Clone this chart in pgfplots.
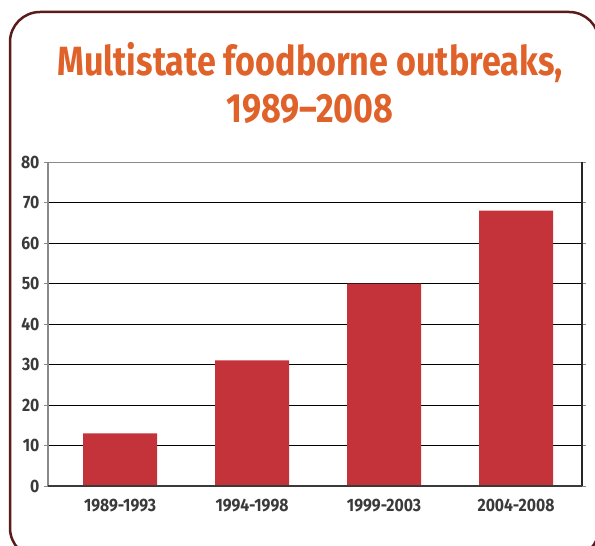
\documentclass[border=0pt]{standalone}
\usepackage{fontspec}
\setmainfont{Fira Sans}
\newfontfamily\titlefont{Fira Sans}[FakeStretch=0.835]
\newfontfamily\tickfont{Fira Sans}[FakeStretch=0.88]
\usepackage{pgfplots}
\pgfplotsset{compat=1.18}

\definecolor{framec}{HTML}{5C1A1A}
\definecolor{titlec}{HTML}{E0622B}
\definecolor{barc}{HTML}{C4333A}
\definecolor{labelc}{HTML}{3A3A3A}
\definecolor{axisgray}{HTML}{8A8A8A}

\pgfplotstableread{
x  n
0  13
1  31
2  50
3  68
}\outbreaks

\begin{document}
\begin{tikzpicture}
\useasboundingbox (0,0) rectangle (595bp,546bp);
\clip (0,0) rectangle (595bp,546bp);

% rounded frame, running off the right and bottom edges
\draw[framec, line width=2.5bp, rounded corners=30bp] (10bp,-12bp) rectangle (599bp,534bp);

% title
\node[anchor=base, text=titlec, font=\titlefont\bfseries\fontsize{41}{41}\selectfont, inner sep=0pt]
  at (310bp,470bp) {Multistate foodborne outbreaks,};
\node[anchor=base, text=titlec, font=\titlefont\bfseries\fontsize{41}{41}\selectfont, inner sep=0pt]
  at (310bp,423bp) {1989–2008};

\begin{axis}[
  at={(48bp,60bp)}, anchor=south west,
  scale only axis,
  width=534bp, height=324bp,
  xmin=-0.546, xmax=3.5,
  ymin=0, ymax=80,
  ytick={0,10,...,80},
  xtick={0,1,2,3},
  xticklabels={1989-1993,1994-1998,1999-2003,2004-2008},
  xtick style={draw=none},
  extra x ticks={-0.5,0.5,1.5,2.5,3.5},
  extra x tick labels={},
  extra x tick style={tick style={draw=labelc, line width=0.8bp}, major tick length=6bp, tick align=outside},
  ytick style={draw=axisgray, line width=0.8bp},
  tick align=outside,
  major tick length=4bp,
  ymajorgrids,
  grid style={black, line width=0.7bp},
  axis line style={draw=none},
  tick label style={font=\tickfont\bfseries\fontsize{18}{18}\selectfont, text=labelc},
  /pgf/number format/assume math mode=true,
  xticklabel style={yshift=-6bp},
  yticklabel style={xshift=-1bp},
  ybar, bar width=74bp,
  clip=false,
]
\addplot[fill=barc, draw=none] table[x=x, y=n] {\outbreaks};
\draw[axisgray, line width=1bp] (axis cs:-0.546,80) -- (axis cs:3.5,80);
\draw[axisgray, line width=1.2bp] (axis cs:-0.546,0) -- (axis cs:-0.546,80);
\draw[black!85, line width=1.2bp] (axis cs:3.5,0) -- (axis cs:3.5,80);
\draw[labelc, line width=1.2bp] (axis cs:-0.546,0) -- (axis cs:3.5,0);
\end{axis}
\end{tikzpicture}
\end{document}
